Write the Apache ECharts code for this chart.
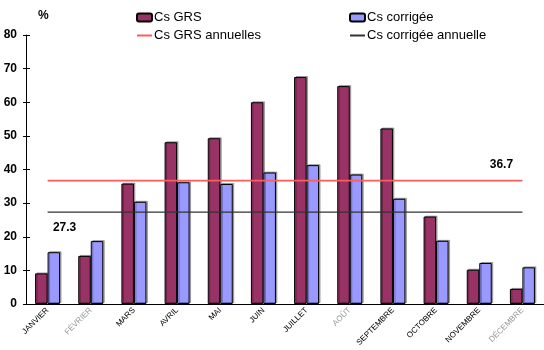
<!DOCTYPE html>
<html>
<head>
<meta charset="utf-8">
<script src="https://cdn.jsdelivr.net/npm/echarts@6/dist/echarts.min.js"></script>
<style>
  html, body { margin: 0; padding: 0; background: #fff; }
  #chart { width: 544px; height: 350px; }
</style>
</head>
<body>
<div id="chart"></div>
<script>
// mois
var months = ["JANVIER", "FÉVRIER", "MARS", "AVRIL", "MAI", "JUIN", "JUILLET", "AOÛT", "SEPTEMBRE", "OCTOBRE", "NOVEMBRE", "DÉCEMBRE"];
var grayMonths = ["FÉVRIER", "AOÛT", "DÉCEMBRE"];
// valeurs
var csGrs = [9.1, 14.3, 35.8, 48.1, 49.3, 60.0, 67.5, 64.8, 52.2, 26.0, 10.2, 4.5];
var csCorr = [15.4, 18.7, 30.4, 36.2, 35.7, 39.1, 41.3, 38.5, 31.3, 18.8, 12.2, 10.9];
var grsAnnuel = [36.7, 36.7, 36.7, 36.7, 36.7, 36.7, 36.7, 36.7, 36.7, 36.7, 36.7, 36.7];
var corrAnnuel = [27.3, 27.3, 27.3, 27.3, 27.3, 27.3, 27.3, 27.3, 27.3, 27.3, 27.3, 27.3];
var yTicks = [0, 80, 10]; // min, max, interval

var myChart = echarts.init(document.getElementById("chart"));

var barStyle = {
  borderColor: "#000",
  borderWidth: 1,
  shadowColor: "rgba(0,0,0,0.3)",
  shadowOffsetX: 1.5,
  shadowOffsetY: -1,
  shadowBlur: 0,
};

var legendText = { color: "#000", fontSize: 13, padding: [0, 0, 0, -3] };

var option = {
  animation: false,
  textStyle: { fontFamily: "Liberation Sans, Arial, sans-serif" },
  legend: [
    {
      left: 136,
      top: 11,
      padding: 0,
      orient: "vertical",
      itemWidth: 15,
      itemHeight: 8,
      itemGap: 5,
      data: ["Cs GRS", { name: "Cs GRS annuelles", itemStyle: { opacity: 0 } }],
      textStyle: legendText,
    },
    {
      left: 349,
      top: 11,
      padding: 0,
      orient: "vertical",
      itemWidth: 15,
      itemHeight: 8,
      itemGap: 5,
      data: ["Cs corrigée", { name: "Cs corrigée annuelle", itemStyle: { opacity: 0 } }],
      textStyle: legendText,
    },
  ],
  grid: {
    left: 26,
    top: 35,
    bottom: 46,
    width: 525,
    containLabel: false,
  },
  xAxis: {
    type: "category",
    data: months,
    axisLine: { lineStyle: { color: "#000", width: 1 } },
    axisTick: { length: 4, lineStyle: { color: "#000" } },
    axisLabel: {
      rotate: 45,
      fontSize: 8,
      margin: 5,
      interval: 0,
      color: function (val) {
        return grayMonths.indexOf(val) >= 0 ? "#999" : "#000";
      },
    },
  },
  yAxis: [
    {
      type: "value",
      min: yTicks[0],
      max: yTicks[1],
      interval: yTicks[2],
      name: "%",
      nameGap: 13,
      nameTextStyle: { color: "#000", fontWeight: "bold", fontSize: 12, align: "left", padding: [0, 0, 0, 12] },
      axisLine: { show: true, lineStyle: { color: "#000", width: 1 } },
      axisTick: { show: true, length: 3, lineStyle: { color: "#000" } },
      axisLabel: { color: "#000", fontWeight: "bold", fontSize: 12, margin: 9 },
      splitLine: { show: false },
    },
    {
      // ticks vers l'intérieur
      type: "value",
      position: "left",
      min: yTicks[0],
      max: yTicks[1],
      interval: yTicks[2],
      axisLine: { show: false },
      axisTick: { show: true, inside: true, length: 4, lineStyle: { color: "#000" } },
      axisLabel: { show: false },
      splitLine: { show: false },
    },
  ],
  series: [
    {
      name: "Cs GRS",
      type: "bar",
      data: csGrs,
      barWidth: 12.5,
      barGap: "0%",
      itemStyle: Object.assign({ color: "#993366" }, barStyle),
    },
    {
      name: "Cs corrigée",
      type: "bar",
      data: csCorr,
      barWidth: 12.5,
      barGap: "0%",
      itemStyle: Object.assign({ color: "#9999ff" }, barStyle),
    },
    {
      name: "Cs GRS annuelles",
      type: "line",
      data: grsAnnuel,
      symbol: "none",
      z: 5,
      lineStyle: { color: "#ff5c5c", width: 1.6 },
      itemStyle: { color: "#ff5c5c" },
      markPoint: {
        symbol: "circle",
        symbolSize: 0,
        data: [{ coord: ["DÉCEMBRE", 36.7] }],
        label: {
          show: true,
          position: "inside",
          offset: [-21, -16],
          formatter: "36.7",
          color: "#000",
          fontWeight: "bold",
          fontSize: 12,
        },
      },
    },
    {
      name: "Cs corrigée annuelle",
      type: "line",
      data: corrAnnuel,
      symbol: "none",
      z: 5,
      lineStyle: { color: "#333", width: 1.3 },
      itemStyle: { color: "#333" },
      markPoint: {
        symbol: "circle",
        symbolSize: 0,
        data: [{ coord: ["JANVIER", 27.3] }],
        label: {
          show: true,
          position: "inside",
          offset: [17, 15],
          formatter: "27.3",
          color: "#000",
          fontWeight: "bold",
          fontSize: 12,
        },
      },
    },
  ],
};
myChart.setOption(option);
</script>
</body>
</html>
